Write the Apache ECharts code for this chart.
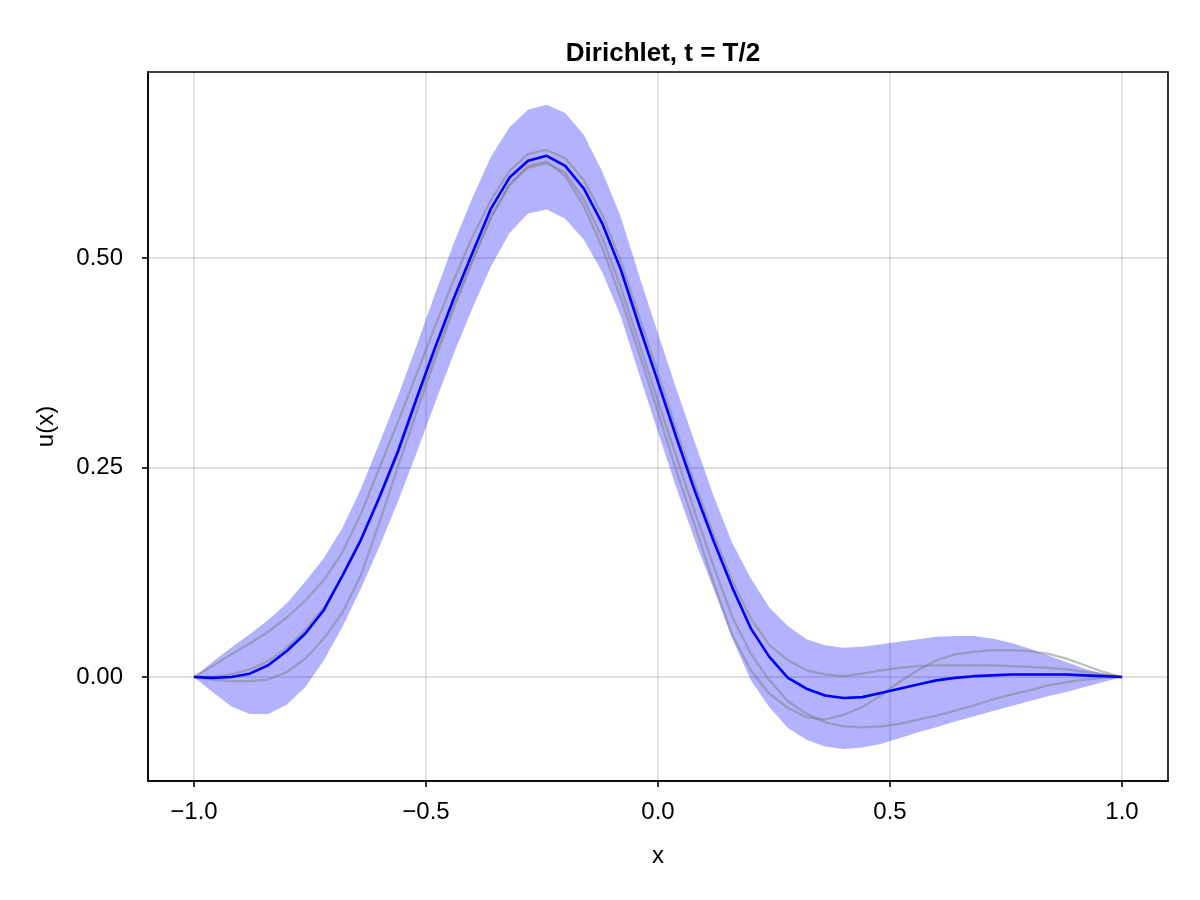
<!DOCTYPE html>
<html>
<head>
<meta charset="utf-8">
<title>Dirichlet, t = T/2</title>
<script src="https://cdn.jsdelivr.net/npm/echarts@6/dist/echarts.min.js"></script>
<style>
    html, body { margin: 0; padding: 0; background: #fff; }
    #chart { width: 1200px; height: 900px; }
</style>
</head>
<body>
<div id="chart"></div>
<script>
// grid points in x
var xs = [-1, -0.96, -0.92, -0.88, -0.84, -0.8, -0.76, -0.72, -0.68, -0.64,
    -0.6, -0.56, -0.52, -0.48, -0.44, -0.4, -0.36, -0.32, -0.28, -0.24,
    -0.2, -0.16, -0.12, -0.08, -0.04, 0, 0.04, 0.08, 0.12, 0.16,
    0.2, 0.24, 0.28, 0.32, 0.36, 0.4, 0.44, 0.48, 0.52, 0.56,
    0.6, 0.64, 0.68, 0.72, 0.76, 0.8, 0.84, 0.88, 0.92, 0.96, 1];

// mean u(x) (blue line)
var meanU = [0, -0.001, 0.000, 0.004, 0.014, 0.031, 0.052, 0.080, 0.121, 0.164,
    0.215, 0.270, 0.333, 0.394, 0.452, 0.506, 0.559, 0.596, 0.616, 0.622,
    0.610, 0.583, 0.541, 0.486, 0.418, 0.352, 0.285, 0.221, 0.162, 0.107,
    0.058, 0.024, -0.001, -0.014, -0.022, -0.025, -0.024, -0.019, -0.014, -0.009,
    -0.004, -0.001, 0.001, 0.002, 0.003, 0.003, 0.003, 0.003, 0.002, 0.001, 0];

// band edges
var upperU = [0, 0.018, 0.035, 0.051, 0.068, 0.088, 0.114, 0.142, 0.178, 0.225,
    0.280, 0.336, 0.396, 0.458, 0.518, 0.572, 0.621, 0.656, 0.677, 0.683,
    0.673, 0.647, 0.603, 0.549, 0.478, 0.410, 0.343, 0.279, 0.216, 0.160,
    0.118, 0.083, 0.061, 0.045, 0.038, 0.035, 0.036, 0.039, 0.042, 0.045,
    0.048, 0.049, 0.049, 0.046, 0.041, 0.034, 0.026, 0.018, 0.010, 0.004, 0];
var lowerU = [0, -0.018, -0.035, -0.044, -0.044, -0.033, -0.012, 0.020, 0.060, 0.106,
    0.156, 0.210, 0.268, 0.328, 0.386, 0.440, 0.490, 0.530, 0.553, 0.558,
    0.547, 0.522, 0.483, 0.430, 0.360, 0.292, 0.225, 0.162, 0.105, 0.046,
    -0.004, -0.036, -0.061, -0.075, -0.083, -0.086, -0.084, -0.080, -0.073, -0.066,
    -0.060, -0.053, -0.047, -0.041, -0.035, -0.029, -0.023, -0.018, -0.012, -0.006, 0];

// sample curves (gray)
var sampleA = [0, 0.013, 0.027, 0.040, 0.054, 0.071, 0.091, 0.116, 0.149, 0.195,
    0.250, 0.305, 0.362, 0.419, 0.474, 0.525, 0.569, 0.604, 0.624, 0.629,
    0.619, 0.593, 0.551, 0.496, 0.429, 0.362, 0.294, 0.229, 0.170, 0.115,
    0.070, 0.038, 0.020, 0.008, 0.003, 0.001, 0.004, 0.008, 0.011, 0.013,
    0.014, 0.014, 0.014, 0.014, 0.013, 0.012, 0.011, 0.009, 0.006, 0.003, 0];
var sampleB = [0, -0.003, -0.005, -0.005, -0.003, 0.006, 0.022, 0.046, 0.077, 0.122,
    0.185, 0.252, 0.316, 0.380, 0.440, 0.496, 0.548, 0.588, 0.610, 0.615,
    0.598, 0.562, 0.512, 0.452, 0.385, 0.316, 0.245, 0.180, 0.112, 0.050,
    0.008, -0.020, -0.037, -0.048, -0.051, -0.045, -0.036, -0.022, -0.006, 0.008,
    0.020, 0.027, 0.030, 0.032, 0.032, 0.031, 0.028, 0.022, 0.014, 0.006, 0];
var sampleC = [0, 0.000, 0.003, 0.009, 0.019, 0.035, 0.056, 0.083, 0.121, 0.164,
    0.213, 0.266, 0.327, 0.387, 0.444, 0.498, 0.549, 0.587, 0.608, 0.613,
    0.602, 0.570, 0.524, 0.465, 0.397, 0.329, 0.262, 0.196, 0.132, 0.072,
    0.028, -0.004, -0.029, -0.044, -0.054, -0.059, -0.060, -0.059, -0.056, -0.051,
    -0.046, -0.040, -0.034, -0.027, -0.021, -0.016, -0.010, -0.006, -0.003, -0.001, 0];

// tick labels
var xTicks = [-1, -0.5, 0, 0.5, 1];
var yTicks = [0, 0.25, 0.5];

var FONT = 'Liberation Sans';

function pairs(ys) {
    var out = [];
    for (var i = 0; i < xs.length; i++) {
        out.push([xs[i], ys[i]]);
    }
    return out;
}

function minusSign(s) {
    return s.replace('-', '\u2212');
}

function grayLine(name, ys) {
    return {
        name: name,
        type: 'line',
        data: pairs(ys),
        showSymbol: false,
        lineStyle: { color: 'rgba(128,128,128,0.5)', width: 2.3 },
        z: 3
    };
}

// band: one polygon, upper edge then lower edge backwards
function renderBand(params, api) {
    if (params.dataIndex !== 0) {
        return null;
    }
    var pts = [];
    for (var i = 0; i < xs.length; i++) {
        pts.push(api.coord([xs[i], upperU[i]]));
    }
    for (var j = xs.length - 1; j >= 0; j--) {
        pts.push(api.coord([xs[j], lowerU[j]]));
    }
    return {
        type: 'polygon',
        shape: { points: pts },
        style: { fill: 'rgba(0,0,255,0.3)' }
    };
}

var bandData = [];
for (var i = 0; i < xs.length; i++) {
    bandData.push([xs[i], lowerU[i], upperU[i]]);
}

var axisBlack = { color: '#000', width: 1.6 };
var gridGray = { color: 'rgba(0,0,0,0.12)', width: 1.8 };

var chart = echarts.init(document.getElementById('chart'));
chart.setOption({
    animation: false,
    backgroundColor: '#fff',
    title: {
        text: 'Dirichlet, t = T/2',
        left: 658,
        top: 36,
        textAlign: 'center',
        textStyle: { fontFamily: FONT, fontSize: 26, fontWeight: 'bold', color: '#000' }
    },
    grid: {
        left: 148, right: 32, top: 72, bottom: 119,
        outerBoundsMode: 'none',
        show: true,
        borderColor: '#000',
        borderWidth: 1.6
    },
    xAxis: {
        type: 'value',
        min: -1.0991,
        max: 1.0991,
        name: 'x',
        nameLocation: 'middle',
        nameGap: 63,
        nameTextStyle: { fontFamily: FONT, fontSize: 24, color: '#000' },
        axisLine: { show: true, onZero: false, lineStyle: axisBlack },
        axisTick: { show: true, length: 6, customValues: xTicks, lineStyle: axisBlack },
        axisLabel: {
            customValues: xTicks,
            margin: 19,
            fontFamily: FONT, fontSize: 24, color: '#000',
            formatter: function (v) { return minusSign(v.toFixed(1)); }
        },
        splitLine: { show: true, lineStyle: gridGray }
    },
    yAxis: {
        type: 'value',
        min: -0.1241,
        max: 0.7220,
        name: 'u(x)',
        nameLocation: 'middle',
        nameGap: 90,
        nameRotate: 90,
        nameTextStyle: { fontFamily: FONT, fontSize: 24, color: '#000' },
        axisLine: { show: true, onZero: false, lineStyle: axisBlack },
        axisTick: { show: true, length: 6, customValues: yTicks, lineStyle: axisBlack },
        axisLabel: {
            customValues: yTicks,
            margin: 25,
            fontFamily: FONT, fontSize: 24, color: '#000',
            formatter: function (v) { return minusSign(v.toFixed(2)); }
        },
        splitLine: { show: true, lineStyle: gridGray }
    },
    series: [
        {
            name: 'band',
            type: 'custom',
            data: bandData,
            encode: { x: 0, y: [1, 2] },
            renderItem: renderBand,
            z: 1
        },
        grayLine('sample A', sampleA),
        grayLine('sample B', sampleB),
        grayLine('sample C', sampleC),
        {
            name: 'mean',
            type: 'line',
            data: pairs(meanU),
            showSymbol: false,
            lineStyle: { color: '#0000ff', width: 2.6 },
            z: 4
        }
    ]
});
</script>
</body>
</html>
